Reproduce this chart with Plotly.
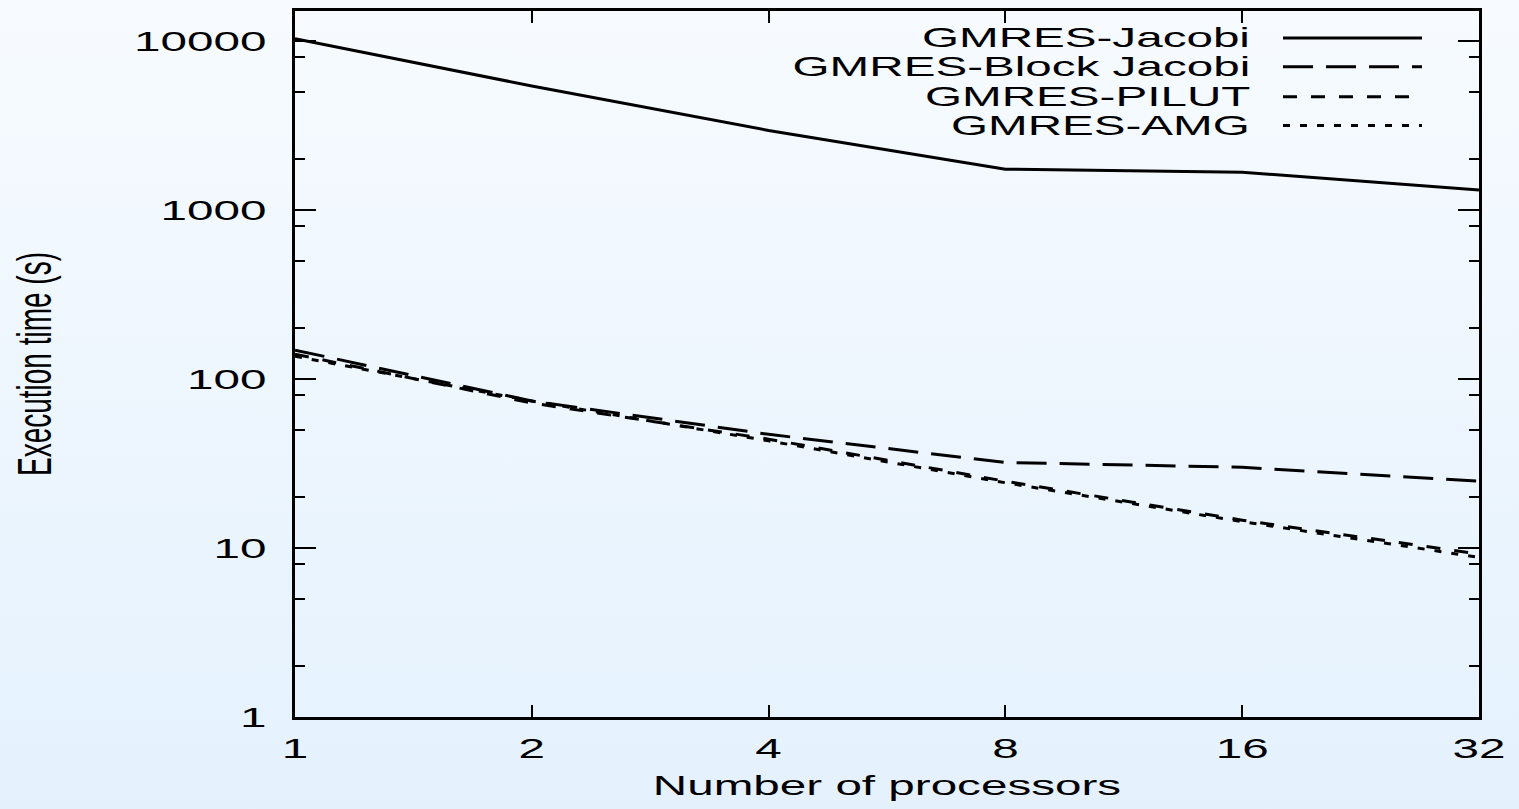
import base64
import math
import plotly.graph_objects as go

# ---------------- data ----------------
processors = [1, 2, 4, 8, 16, 32]
proc_labels = ["1", "2", "4", "8", "16", "32"]

series_names = ["GMRES-Jacobi", "GMRES-Block Jacobi", "GMRES-PILUT", "GMRES-AMG"]
jacobi = [10300, 5400, 2950, 1740, 1670, 1310]
block_jacobi = [148, 74, 47, 32, 30, 24.8]
pilut = [140, 72, 44, 24.8, 14.6, 9.2]
amg = [136, 74, 43, 24.3, 14.3, 8.8]

y_tick_vals = [1, 10, 100, 1000, 10000]
y_tick_text = ["1", "10", "100", "1000", "10000"]
y_minor_vals = [m * 10 ** d for d in range(0, 5) for m in (2, 5, 8)]

# ---------------- layout geometry ----------------
W, H = 1519, 809
ML, MR, MT, MB = 295, 40, 8, 92
PW, PH = W - ML - MR, H - MT - MB

def px_x(x):
    return (x - ML) / PW

def px_y(y):
    return (H - MB - y) / PH

FONT = "Liberation Sans, Arial, sans-serif"
FS = 28

styles = [
    dict(dash="solid"),
    dict(dash="30px,13px"),
    dict(dash="14px,14px"),
    dict(dash="7px,10px"),
]
all_series = [jacobi, block_jacobi, pilut, amg]

fig = go.Figure()
for name, vals, st in zip(series_names, all_series, styles):
    fig.add_trace(go.Scatter(
        x=processors, y=vals, name=name, mode="lines",
        line=dict(color="black", width=3, dash=st["dash"]),
        showlegend=False, hoverinfo="x+y+name",
    ))

# gradient background as an embedded SVG image
grad_svg = (
    '<svg xmlns="http://www.w3.org/2000/svg" width="100" height="100" preserveAspectRatio="none">'
    '<defs><linearGradient id="g" x1="0" y1="0" x2="0" y2="1">'
    '<stop offset="0" stop-color="#f7fbff"/><stop offset="1" stop-color="#e4f1fd"/>'
    '</linearGradient></defs><rect width="100" height="100" fill="url(#g)"/></svg>'
)
grad_uri = "data:image/svg+xml;base64," + base64.b64encode(grad_svg.encode()).decode()

# manual gnuplot-style legend (text right, sample line to its right)
legend_rows_y = [35, 64, 94, 123]
legend_text_right = 1252
legend_line_x0, legend_line_x1 = 1283, 1422

annotations = []
shapes = []
for name, st, yy in zip(series_names, styles, legend_rows_y):
    annotations.append(dict(
        xref="paper", yref="paper", x=px_x(legend_text_right), y=px_y(yy),
        xanchor="right", yanchor="middle", align="right", showarrow=False,
        text=name, font=dict(family=FONT, size=FS, color="black"),
    ))
    shapes.append(dict(
        type="line", xref="paper", yref="paper",
        x0=px_x(legend_line_x0), x1=px_x(legend_line_x1),
        y0=px_y(yy), y1=px_y(yy),
        line=dict(color="black", width=3, dash=st["dash"]),
    ))

fig.update_layout(
    width=W, height=H,
    margin=dict(l=ML, r=MR, t=MT, b=MB, pad=0),
    paper_bgcolor="#eef6fe",
    plot_bgcolor="rgba(0,0,0,0)",
    font=dict(family=FONT, size=FS, color="black"),
    showlegend=False,
    annotations=annotations,
    shapes=shapes,
    images=[dict(
        source=grad_uri, xref="paper", yref="paper",
        x=px_x(-5), y=px_y(-5), sizex=(W + 10) / PW, sizey=(H + 10) / PH,
        xanchor="left", yanchor="top", sizing="stretch", layer="below",
    )],
    xaxis=dict(
        type="log", range=[0, math.log10(32)],
        tickmode="array", tickvals=processors, ticktext=proc_labels,
        ticks="inside", ticklen=12, tickwidth=2, tickcolor="black",
        showline=True, linewidth=3, linecolor="black", mirror="allticks",
        showgrid=False, zeroline=False,
        ticklabelstandoff=4,
        tickfont=dict(family=FONT, size=FS, color="black"),
        title=dict(text="Number of processors", standoff=13,
                   font=dict(family=FONT, size=FS, color="black")),
    ),
    yaxis=dict(
        type="log", range=[0, math.log10(15000)],
        tickmode="array", tickvals=y_tick_vals, ticktext=y_tick_text,
        ticks="inside", ticklen=21, tickwidth=2, tickcolor="black",
        minor=dict(tickmode="array", tickvals=y_minor_vals, ticks="inside",
                   ticklen=10, tickwidth=2, tickcolor="black", showgrid=False),
        showline=True, linewidth=3, linecolor="black", mirror="allticks",
        showgrid=False, zeroline=False,
        ticklabelstandoff=20,
        tickfont=dict(family=FONT, size=FS, color="black"),
        title=dict(text="Execution time (s)", standoff=136,
                   font=dict(family=FONT, size=FS, color="black")),
    ),
)

# Stretch text horizontally (the reference rendering is horizontally stretched)
post_js = r"""
var gd = document.getElementById('{plot_id}');
var S = 1.7;
gd.querySelectorAll('svg text').forEach(function(t){
  if (t.classList.contains('ytitle')) return;
  var txt = t.textContent;
  if (!txt || !txt.trim()) return;
  var L = t.getComputedTextLength();
  if (L > 0) {
    t.setAttribute('textLength', (L * S).toFixed(2));
    t.setAttribute('lengthAdjust', 'spacingAndGlyphs');
  }
});
var yt = gd.querySelector('text.ytitle');
if (yt) {
  var r = yt.getBoundingClientRect();
  var s = yt.ownerSVGElement.getBoundingClientRect();
  var cx = r.left + r.width / 2 - s.left;
  var tr = yt.getAttribute('transform') || '';
  yt.setAttribute('transform', 'translate(' + cx + ',0) scale(' + S + ',1) translate(' + (-cx) + ',0) ' + tr);
}
"""

fig.write_html("out.html", config={"displayModeBar": False}, post_script=post_js)
